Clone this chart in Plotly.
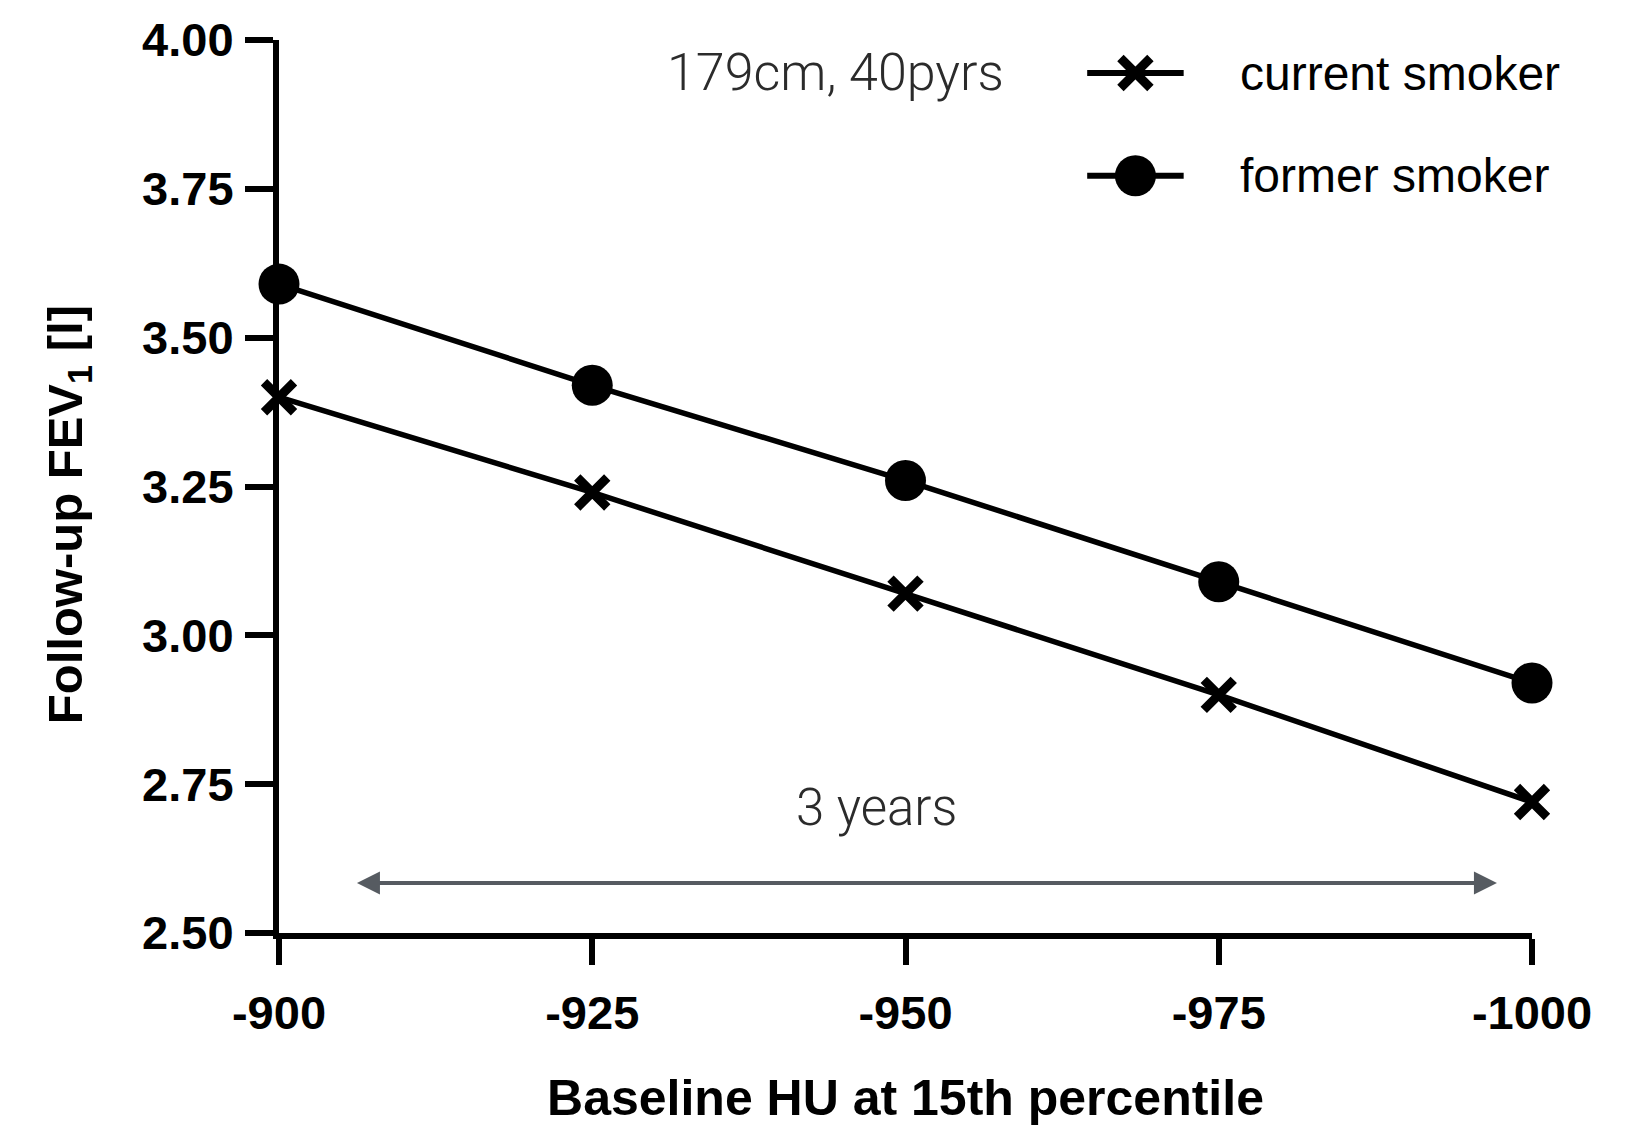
import plotly.graph_objects as go

# Baseline HU at the 15th percentile (x) and predicted follow-up FEV1 in litres (y)
hu_values = [-900, -925, -950, -975, -1000]
current_smoker = [3.40, 3.24, 3.07, 2.90, 2.72]
former_smoker = [3.59, 3.42, 3.26, 3.09, 2.92]

x_tick_values = [-900, -925, -950, -975, -1000]
x_tick_labels = ["-900", "-925", "-950", "-975", "-1000"]
y_tick_values = [2.50, 2.75, 3.00, 3.25, 3.50, 3.75, 4.00]

series_names = ["current smoker", "former smoker"]

BOLD = dict(family="Liberation Sans, Arial, sans-serif", color="black", weight="bold")
NOTE_FONT = "Roboto, sans-serif"
NOTE_COLOR = "#2b2b2b"
ARROW_GREY = "#565b61"

fig = go.Figure()

x_marker = dict(symbol="x-thin-open", size=30, color="black",
                line=dict(width=9, color="black"))
o_marker = dict(symbol="circle", size=41, color="black",
                line=dict(width=0))

fig.add_trace(go.Scatter(
    x=hu_values, y=current_smoker, name=series_names[0], mode="lines+markers",
    line=dict(color="black", width=5.5), marker=x_marker, cliponaxis=False,
    showlegend=False))
fig.add_trace(go.Scatter(
    x=hu_values, y=former_smoker, name=series_names[1], mode="lines+markers",
    line=dict(color="black", width=5.5), marker=o_marker, cliponaxis=False,
    showlegend=False))

# Hand-built key in the upper right, on an overlay axis spanning the plot area
key_x0, key_x1 = 0.645, 0.722
key_rows = [0.963, 0.848]
for name, marker, row in zip(series_names, [x_marker, o_marker], key_rows):
    fig.add_trace(go.Scatter(
        x=[key_x0, key_x1], y=[row, row], mode="lines",
        line=dict(color="black", width=6), xaxis="x2", yaxis="y2",
        showlegend=False, hoverinfo="skip", cliponaxis=False))
    fig.add_trace(go.Scatter(
        x=[(key_x0 + key_x1) / 2], y=[row], mode="markers", marker=marker,
        xaxis="x2", yaxis="y2", showlegend=False, hoverinfo="skip",
        cliponaxis=False))
    fig.add_annotation(
        x=0.765, y=row, xref="x2", yref="y2", text=name, showarrow=False,
        xanchor="left", yanchor="middle",
        font=dict(family="Liberation Sans, Arial, sans-serif", size=48,
                  color="black"))

# Subject profile and follow-up interval
fig.add_annotation(
    x=-944.4, y=3.945, xref="x", yref="y", text="179cm, 40pyrs",
    showarrow=False, xanchor="center", yanchor="middle",
    font=dict(family=NOTE_FONT, size=52, color=NOTE_COLOR, weight=300))
fig.add_annotation(
    x=-947.7, y=2.71, xref="x", yref="y", text="3 years",
    showarrow=False, xanchor="center", yanchor="middle",
    font=dict(family=NOTE_FONT, size=51, color=NOTE_COLOR, weight=300))
fig.add_annotation(
    x=-997.2, y=2.584, ax=-906.1, ay=2.584, xref="x", yref="y",
    axref="x", ayref="y", text="", showarrow=True, arrowside="end+start",
    arrowhead=2, arrowsize=1.15, arrowwidth=4, arrowcolor=ARROW_GREY)

# Y-axis title placed as a rotated label beside the tick labels
fig.add_annotation(
    x=-0.1684, y=0.469, xref="paper", yref="paper",
    text="Follow-up FEV<sub>1</sub> [l]", showarrow=False, textangle=-90,
    xanchor="center", yanchor="middle", font=dict(size=49, **BOLD))

fig.update_layout(
    width=1639, height=1127,
    margin=dict(l=279, r=107, t=40, b=194),
    paper_bgcolor="white", plot_bgcolor="white",
    showlegend=False,
    xaxis=dict(
        range=[-900, -1000], tickvals=x_tick_values, ticktext=x_tick_labels,
        showgrid=False, zeroline=False, showline=True, linecolor="black",
        linewidth=6, ticks="outside", ticklen=26, tickwidth=6,
        tickcolor="black", tickfont=dict(size=47, **BOLD),
        ticklabelstandoff=8, layer="below traces", automargin=False,
        title=dict(text="Baseline HU at 15th percentile",
                   font=dict(size=50, **BOLD), standoff=44)),
    yaxis=dict(
        range=[2.5, 4.0], tickvals=y_tick_values, tickformat=".2f",
        showgrid=False, zeroline=False, showline=True, linecolor="black",
        linewidth=6, ticks="outside", ticklen=28, tickwidth=6,
        tickcolor="black", tickfont=dict(size=47, **BOLD),
        ticklabelstandoff=2, layer="below traces", automargin=False),
    xaxis2=dict(overlaying="x", range=[0, 1], visible=False),
    yaxis2=dict(overlaying="y", range=[0, 1], visible=False),
)

fig.write_html("out.html")
